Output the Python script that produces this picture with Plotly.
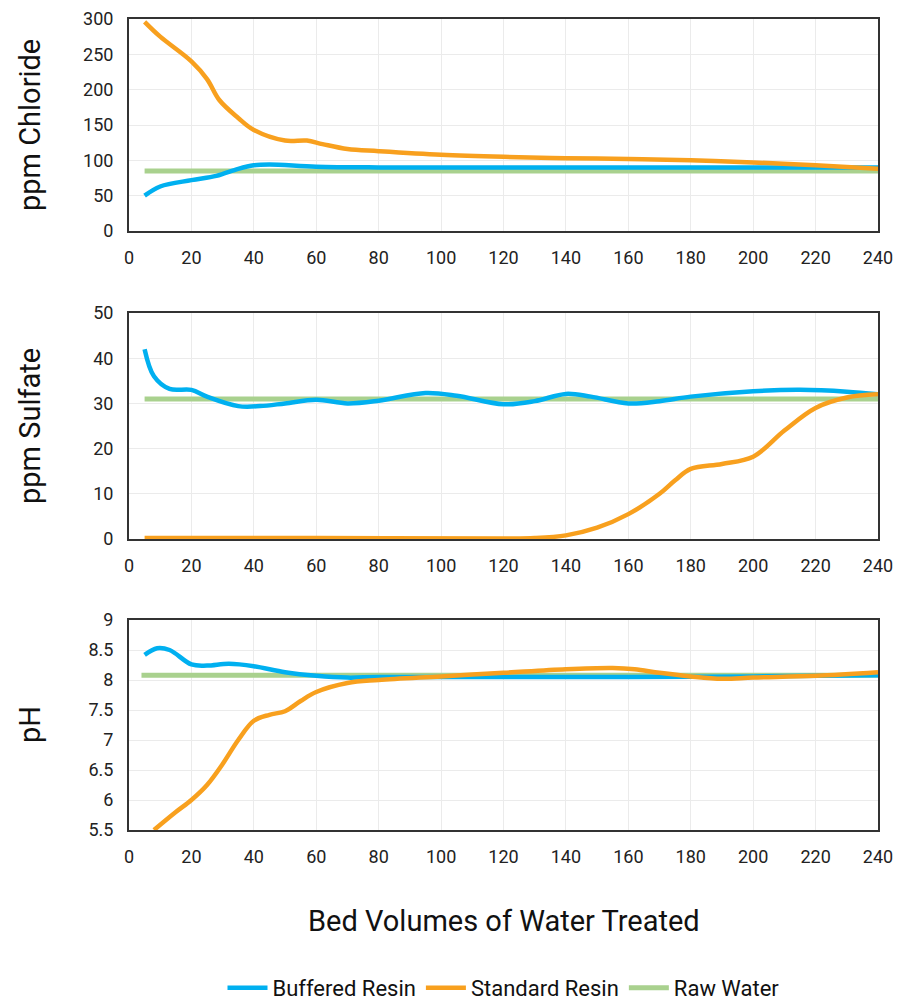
import plotly.graph_objects as go

# ---- Data ----
cl_buf_x = [5, 10, 20, 28, 35, 40, 45, 60, 80, 120, 160, 200, 240]
cl_buf_y = [50, 63, 72, 78, 88, 93, 94, 91, 90, 90, 90, 90, 90]
cl_std_x = [5, 10, 20, 25, 29, 35, 40, 50, 57, 62, 70, 80, 100, 120, 140, 160, 180, 200, 220, 240]
cl_std_y = [296, 275, 240, 215, 185, 160, 143, 128, 128, 123, 116, 113, 108, 105, 103, 102, 100, 97, 93, 88]
cl_raw_x = [5, 240]
cl_raw_y = [85, 85]

so_buf_x = [5, 8, 13, 20, 25, 35, 42, 50, 60, 70, 80, 95, 105, 120, 130, 140, 148, 160, 170, 180, 200, 215, 230, 240]
so_buf_y = [42, 36, 33.2, 33, 31.5, 29.4, 29.4, 30, 30.8, 30, 30.6, 32.3, 31.7, 29.8, 30.5, 32.1, 31.5, 30, 30.5, 31.5, 32.7, 33, 32.6, 32]
so_std_x = [5, 60, 120, 130, 140, 150, 160, 170, 175, 180, 190, 200, 210, 220, 230, 240]
so_std_y = [0.2, 0.2, 0.1, 0.2, 0.8, 2.5, 5.5, 10, 13, 15.5, 16.6, 18.2, 24, 29, 31.3, 32]
so_raw_x = [5, 240]
so_raw_y = [31, 31]

ph_buf_x = [5, 9, 13, 20, 25, 32, 40, 50, 60, 70, 80, 120, 160, 200, 240]
ph_buf_y = [8.42, 8.53, 8.5, 8.26, 8.24, 8.27, 8.23, 8.13, 8.07, 8.04, 8.05, 8.05, 8.05, 8.06, 8.08]
ph_std_x = [8, 15, 20, 25, 30, 35, 40, 45, 50, 55, 60, 70, 80, 100, 120, 140, 155, 162, 170, 180, 190, 200, 220, 240]
ph_std_y = [5.5, 5.8, 6.0, 6.25, 6.6, 7.0, 7.32, 7.42, 7.48, 7.65, 7.8, 7.95, 8.0, 8.06, 8.12, 8.18, 8.2, 8.18, 8.12, 8.06, 8.02, 8.04, 8.07, 8.13]
ph_raw_x = [4, 240]
ph_raw_y = [8.08, 8.08]

series_names = ["Buffered Resin", "Standard Resin", "Raw Water"]
colors = ["#00b0f0", "#f8a01e", "#a9d18e"]
widths = [4.5, 4.5, 5]

panels = [
    ("ppm Chloride", [(cl_buf_x, cl_buf_y), (cl_std_x, cl_std_y), (cl_raw_x, cl_raw_y)], [0, 300], 50),
    ("ppm Sulfate", [(so_buf_x, so_buf_y), (so_std_x, so_std_y), (so_raw_x, so_raw_y)], [0, 50], 10),
    ("pH", [(ph_buf_x, ph_buf_y), (ph_std_x, ph_std_y), (ph_raw_x, ph_raw_y)], [5.5, 9], 0.5),
]

# layout geometry (pixels, page has an 8px body offset)
W, H = 910, 1002
ml, mr, mt, mb = 121, 40, 11, 180
ph = H - mt - mb
pix = [(11, 223), (305, 531), (612, 822)]
def py(p):
    return (H - mb - p) / ph

fig = go.Figure()
font = "Roboto, Arial, sans-serif"
for i, (title, data, rng, dt) in enumerate(panels):
    ax = "" if i == 0 else str(i + 1)
    for j in [2, 0, 1]:
        xs, ys = data[j]
        fig.add_trace(go.Scatter(
            x=xs, y=ys, mode="lines", name=series_names[j],
            line=dict(color=colors[j], width=widths[j],
                      shape="spline" if j != 2 else "linear", smoothing=1.0),
            xaxis="x" + ax, yaxis="y" + ax,
            showlegend=(i == 0), legendrank=j + 1,
        ))
    top, bot = pix[i]
    fig.layout["xaxis" + ax] = dict(
        domain=[0, 1], range=[0, 240], dtick=20, tick0=0, anchor="y" + ax,
        showline=True, linecolor="#333333", linewidth=2, mirror=True,
        showgrid=True, gridcolor="#ebebeb", gridwidth=1, zeroline=False,
        tickfont=dict(size=18, color="#222222", family=font), ticks="", ticklabelstandoff=9,
        ticklabeloverflow="allow",
    )
    fig.layout["yaxis" + ax] = dict(
        domain=[py(bot), py(top)], range=rng, dtick=dt, anchor="x" + ax,
        showline=True, linecolor="#333333", linewidth=2, mirror=True,
        showgrid=True, gridcolor="#ebebeb", gridwidth=1, zeroline=False,
        tickfont=dict(size=18, color="#222222", family=font), ticks="", ticklabelstandoff=10,
        ticklabeloverflow="allow",
    )
    fig.add_annotation(
        text=title, xref="paper", yref="paper", x=(22 - ml) / (W - ml - mr), y=py((top + bot) / 2),
        textangle=-90, showarrow=False, font=dict(size=29, color="#111111", family=font),
        xanchor="center", yanchor="middle",
    )

fig.add_annotation(
    text="Bed Volumes of Water Treated", xref="paper", yref="paper",
    x=0.5, y=py(913), showarrow=False, font=dict(size=29, color="#111111", family=font),
    xanchor="center", yanchor="middle",
)

fig.update_layout(
    width=W, height=H, margin=dict(l=ml, r=mr, t=mt, b=mb, autoexpand=False),
    paper_bgcolor="white", plot_bgcolor="white",
    font=dict(family=font, color="#111111"),
    legend=dict(orientation="h", x=0.5, xanchor="center",
                yref="container", y=1 - 980 / H, yanchor="middle",
                font=dict(size=22, color="#111111", family=font), traceorder="normal",
                itemwidth=40),
)

fig.write_html("out.html")
